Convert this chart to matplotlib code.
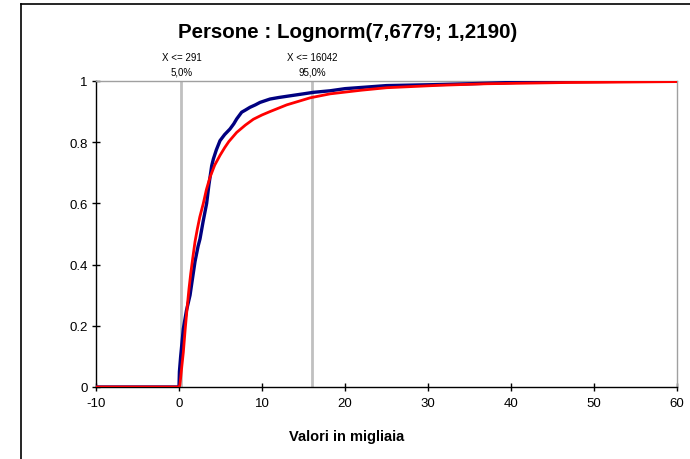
import matplotlib
matplotlib.use("Agg")
import matplotlib.pyplot as plt
from matplotlib.lines import Line2D

plt.rcParams['font.family'] = ['Liberation Sans', 'DejaVu Sans']

# Empirical CDF (blue), values in thousands
emp_x = [-10, 0.0, 0.05, 0.2, 0.52, 0.9, 1.33, 1.6, 1.93, 2.3, 2.53, 2.9, 3.33, 3.6, 3.94, 4.14,
         4.5, 4.94, 5.5, 6.14, 6.6, 6.95, 7.55, 8.0, 8.55, 9.2, 9.76, 10.96, 12.0, 12.98, 14.98,
         16.2, 18.2, 20.0, 25.0, 30.6, 35.0, 41.1, 46.7, 60]
emp_y = [0.0, 0.0, 0.05, 0.10, 0.19, 0.25, 0.30, 0.35, 0.41, 0.46, 0.484, 0.54, 0.60, 0.66, 0.723, 0.745,
         0.775, 0.805, 0.825, 0.843, 0.86, 0.876, 0.898, 0.905, 0.914, 0.922, 0.93, 0.941, 0.946, 0.95, 0.958,
         0.963, 0.968, 0.975, 0.985, 0.988, 0.991, 0.996, 0.998, 1.0]

# Fitted lognormal CDF (red)
fit_x = [-10, 0.0, 0.1, 0.2, 0.35, 0.52, 0.75, 1.0, 1.2, 1.41, 1.65, 1.93, 2.2, 2.5, 2.93, 3.3, 3.73, 4.3,
         4.94, 5.5, 6.0, 6.95, 8.0, 8.96, 10.0, 10.96, 12.98, 15.8, 18.2, 22.0, 25.0, 31.4, 37.1, 46.7, 60]
fit_y = [0.0, 0.0, 0.006, 0.03, 0.07, 0.113, 0.19, 0.265, 0.32, 0.37, 0.42, 0.475, 0.515, 0.555, 0.60, 0.645, 0.685,
         0.725, 0.757, 0.782, 0.802, 0.832, 0.856, 0.875, 0.889, 0.900, 0.922, 0.945, 0.958, 0.970, 0.978, 0.986,
         0.991, 0.995, 0.998]

# Percentile markers
pct_x = [0.291, 16.042]
pct_top = ["X <= 291", "X <= 16042"]
pct_bot = ["5,0%", "95,0%"]

title = "Persone : Lognorm(7,6779; 1,2190)"
xlabel = "Valori in migliaia"
xticks = [-10, 0, 10, 20, 30, 40, 50, 60]
yticks = [0, 0.2, 0.4, 0.6, 0.8, 1]
ytick_labels = ["0", "0.2", "0.4", "0.6", "0.8", "1"]

fig = plt.figure(figsize=(6.9, 4.6), dpi=100)
ax = fig.add_axes([96/690, 1-388/460, (677-96)/690, (388-82)/460])

for xv in pct_x:
    ax.axvline(xv, color="#C0C0C0", lw=2, zorder=1)

ax.plot(emp_x, emp_y, color="#000080", lw=2.4, zorder=3)
ax.plot(fit_x, fit_y, color="#FF0000", lw=2, zorder=4)

ax.set_xlim(-10, 60)
ax.set_ylim(0, 1)
ax.set_xticks(xticks)
ax.set_xticklabels([str(t) for t in xticks])
ax.set_yticks(yticks)
ax.set_yticklabels(ytick_labels)
ax.tick_params(axis='both', direction='inout', length=6, width=1, labelsize=9.5, colors='black')
ax.tick_params(axis='x', pad=4)
ax.tick_params(axis='y', pad=3)
for s in ['left', 'bottom']:
    ax.spines[s].set_color('black')
    ax.spines[s].set_linewidth(1)
for s in ['top', 'right']:
    ax.spines[s].set_color('#A0A0A0')
    ax.spines[s].set_linewidth(1)

for xv, t1, t2 in zip(pct_x, pct_top, pct_bot):
    ax.annotate(t1, xy=(xv, 1), xycoords='data', xytext=(0, 14), textcoords='offset points',
                ha='center', va='bottom', fontsize=7)
    ax.annotate(t2, xy=(xv, 1), xycoords='data', xytext=(0, 3), textcoords='offset points',
                ha='center', va='bottom', fontsize=7)

fig.text(348/690, 1-32/460, title, ha='center', va='center', fontsize=14.8, fontweight='bold')
fig.text(347/690, 1-437/460, xlabel, ha='center', va='center', fontsize=10.5, fontweight='bold')

# outer chart frame
fig.add_artist(Line2D([21/690, 21/690], [0, 1-5/460], transform=fig.transFigure, color='black', lw=1.2))
fig.add_artist(Line2D([21/690, 1], [1-5/460, 1-5/460], transform=fig.transFigure, color='black', lw=1.2))

fig.savefig("out.png", dpi=100)
